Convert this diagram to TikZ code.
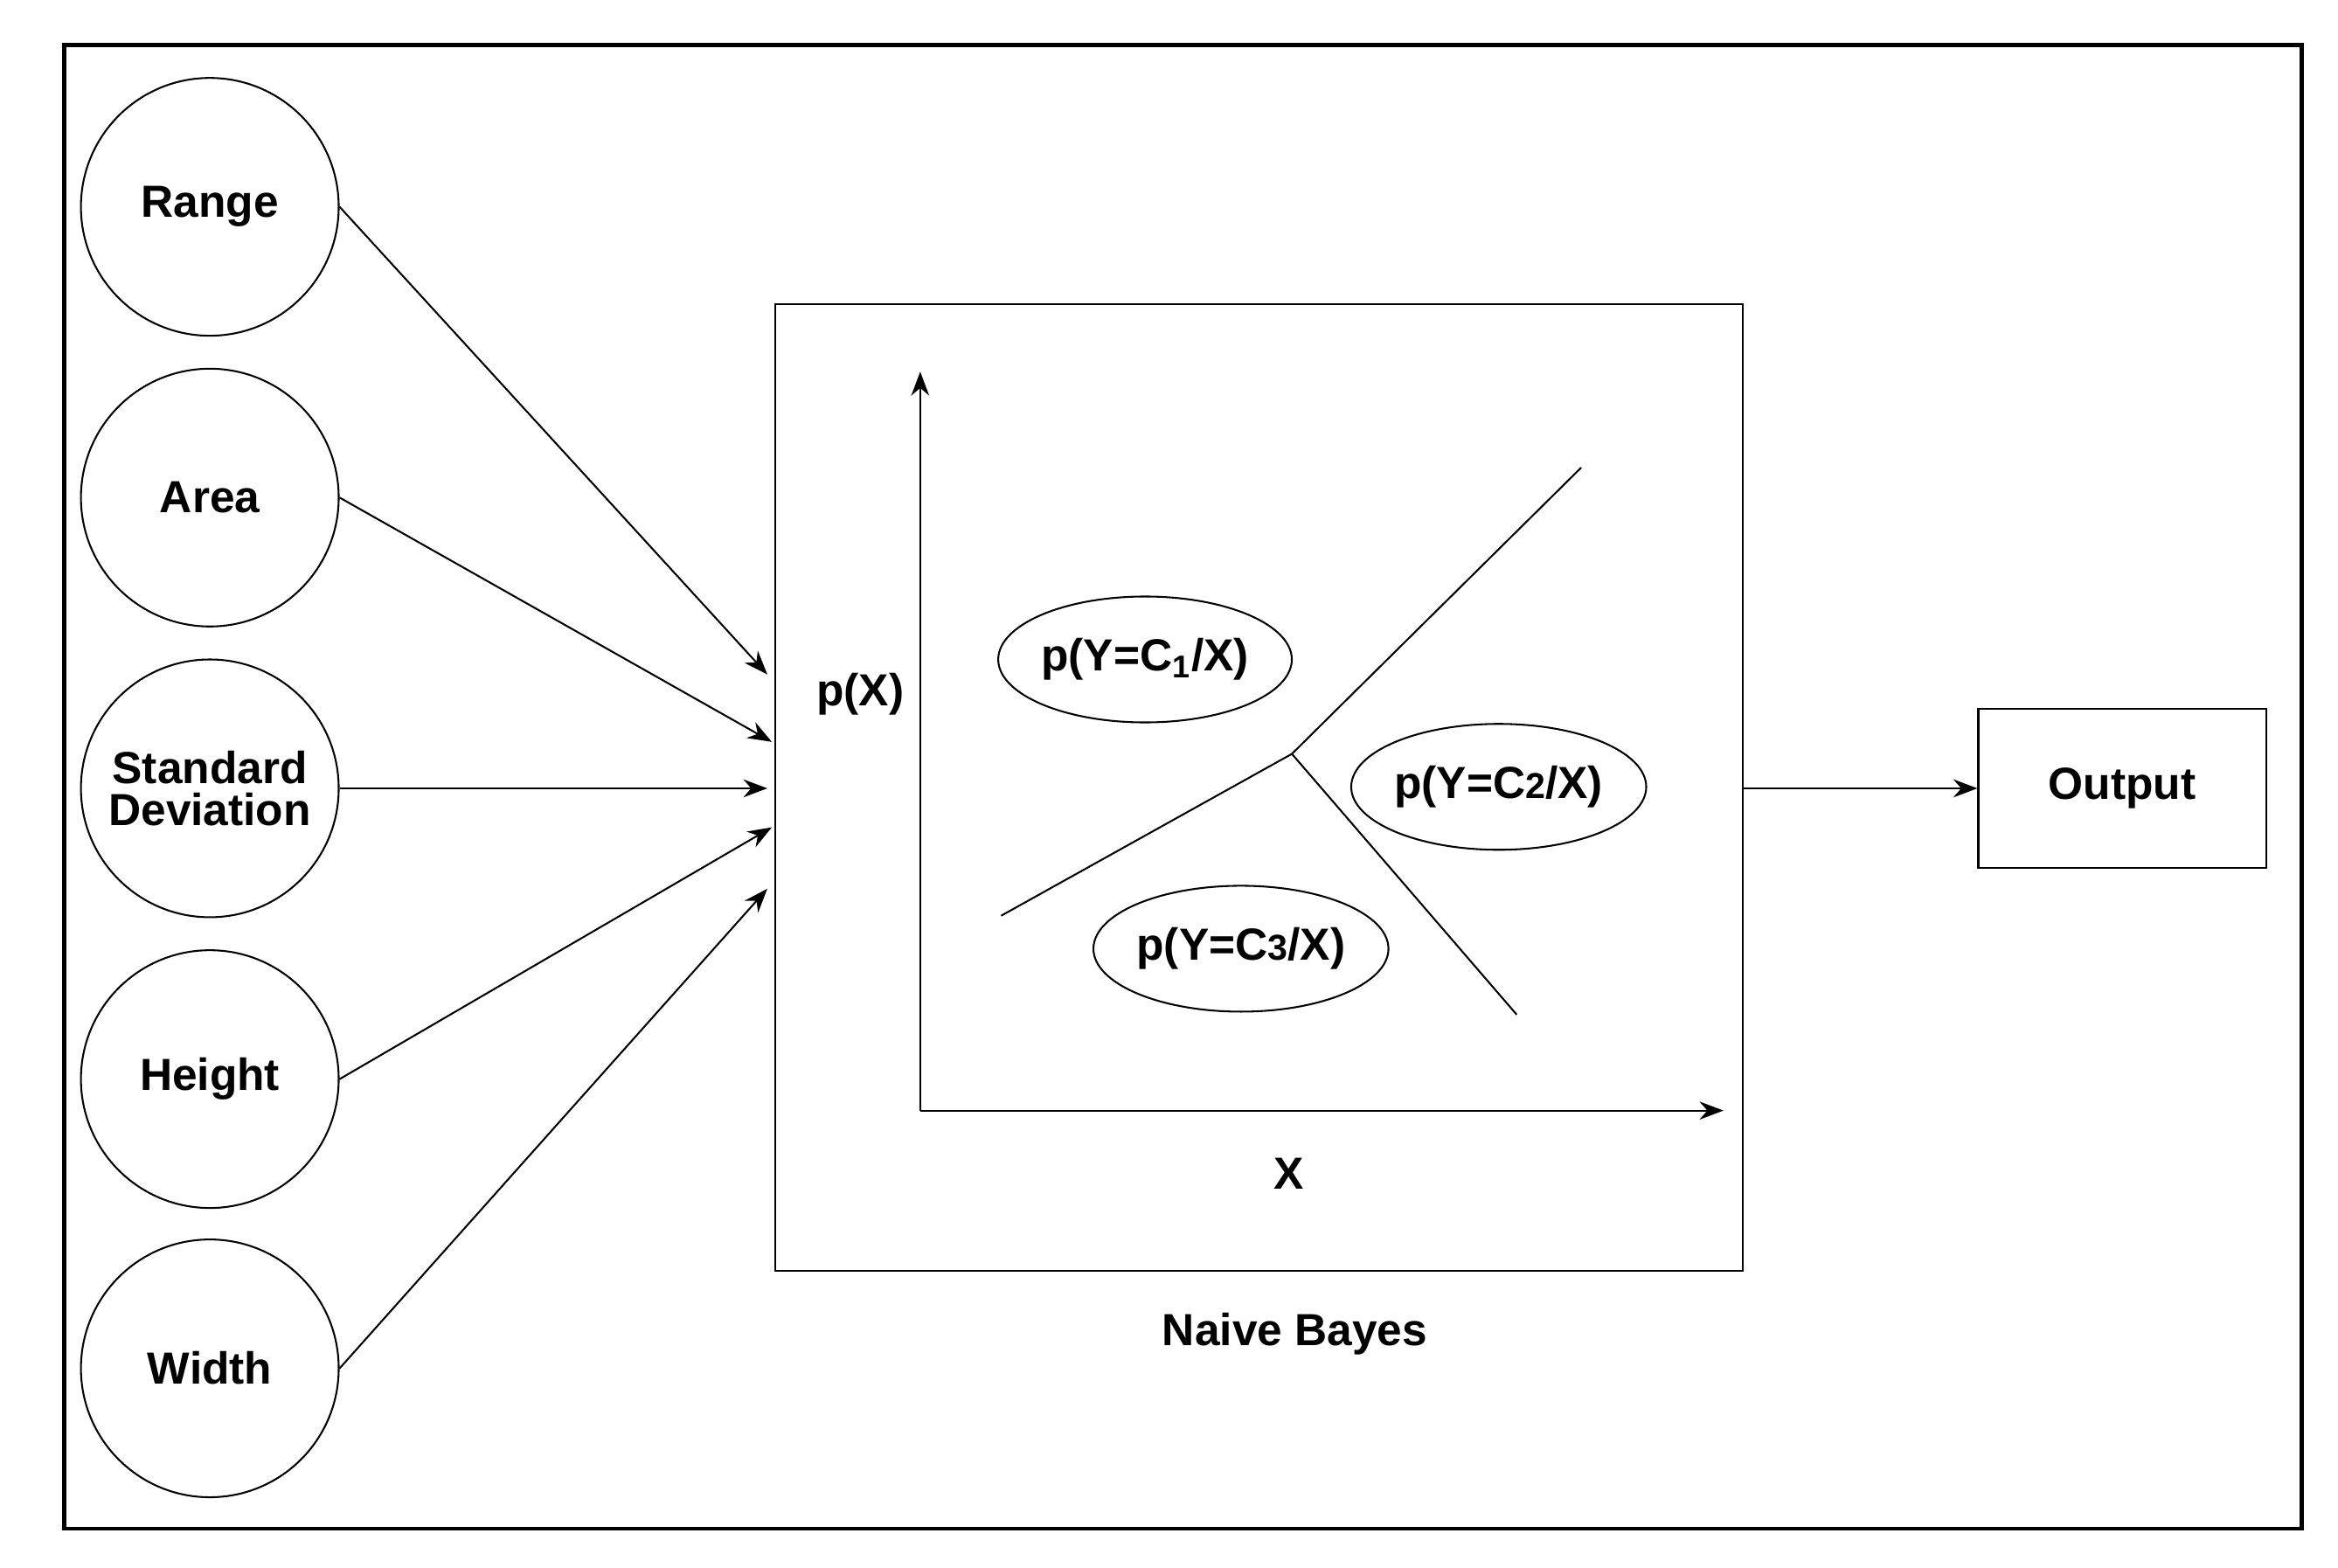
\documentclass[tikz,border=0pt]{standalone}
\usepackage{fontspec}
\setmainfont{Liberation Sans}
\usetikzlibrary{arrows.meta,shapes.geometric}
\tikzset{
  feat/.style={draw, circle, minimum size=86pt, inner sep=0pt, align=center, line width=0.6pt, font=\fontsize{15}{16}\selectfont\bfseries},
  cls/.style={draw, ellipse, minimum width=95pt, minimum height=42pt, inner sep=0pt, line width=0.6pt, font=\fontsize{15}{16}\selectfont\bfseries},
  lbl/.style={inner sep=0.75pt, font=\fontsize{15}{16}\selectfont\bfseries},
  arr/.style={-{Stealth[length=8pt,width=6pt]}, line width=0.6pt}
}
\begin{document}
\begin{tikzpicture}[x=0.5pt,y=0.5pt,yscale=-1,xscale=1]
        \useasboundingbox (0,0) rectangle (1560,1046);

        %Shape: Outer frame
        \draw [line width=1.4pt]  (43,30) rectangle (1536,1020) ;
        %Shape: Naive Bayes box
        \draw [line width=0.6pt]  (517,203) rectangle (1163,848) ;
        \coordinate (nbR) at (1163,526) ;

        % Feature circles
        \node [feat] (range) at (140,138) {Range};
        \node [feat] (area) at (140,332) {Area};
        \node [feat] (stddev) at (140,526) {Standard\\[-2pt]Deviation};
        \node [feat] (height) at (140,720) {Height};
        \node [feat] (width) at (140,913) {Width};

        % Arrow ends at the box
        \coordinate (inA) at (512,450) ;
        \coordinate (inB) at (515,495) ;
        \coordinate (inC) at (512,526) ;
        \coordinate (inD) at (515,552) ;
        \coordinate (inE) at (512,593) ;
        \draw [arr] (range.east) -- (inA) ;
        \draw [arr] (area.east) -- (inB) ;
        \draw [arr] (stddev.east) -- (inC) ;
        \draw [arr] (height.east) -- (inD) ;
        \draw [arr] (width.east) -- (inE) ;

        % Axes
        \coordinate (origin) at (614,741) ;
        \coordinate (ytop) at (614,248) ;
        \coordinate (xend) at (1150,741) ;
        \draw [arr] (origin) -- (ytop) ;
        \draw [arr] (origin) -- (xend) ;
        \node [lbl] (px) at (574,463) {p(X)};
        \node [lbl] (xlab) at (860,783) {X};

        % Decision boundaries
        \coordinate (meet) at (862,503) ;
        \coordinate (bL) at (668,611) ;
        \coordinate (bT) at (1055,312) ;
        \coordinate (bB) at (1012,677) ;
        \draw [line width=0.6pt] (bL) -- (meet) -- (bT) ;
        \draw [line width=0.6pt] (meet) -- (bB) ;

        % Class regions
        \node [cls] (c1) at (764,440) {p(Y=C\textsubscript{1}/X)};
        \node [cls] (c2) at (1000,525) {p(Y=C{\fontsize{12}{12}\selectfont 2}/X)};
        \node [cls] (c3) at (828,633) {p(Y=C{\fontsize{12}{12}\selectfont 3}/X)};

        % Output
        \node [draw, line width=0.6pt, minimum width=96pt, minimum height=53pt, lbl] (out) at (1416,526) {Output};
        \draw [arr] (nbR) -- (out.west) ;

        \node [lbl] (nb) at (864,890) {Naive Bayes};
\end{tikzpicture}
\end{document}
